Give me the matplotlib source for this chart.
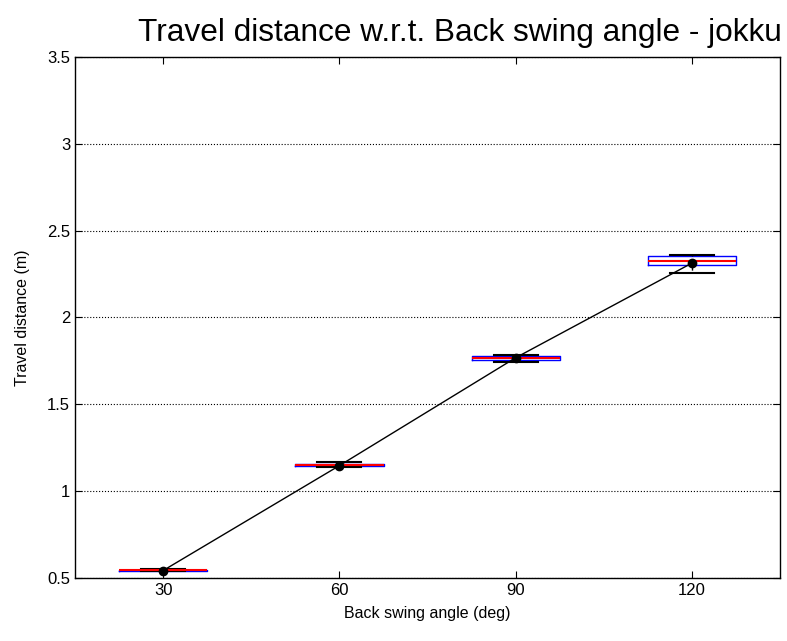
import matplotlib.pyplot as plt

plt.rcParams['font.family'] = ['Liberation Sans', 'DejaVu Sans']

# Box statistics
angles = ['30', '60', '90', '120']
whislo = [0.538, 1.140, 1.745, 2.255]
q1 = [0.543, 1.147, 1.753, 2.302]
med = [0.545, 1.153, 1.765, 2.325]
q3 = [0.547, 1.157, 1.777, 2.352]
whishi = [0.552, 1.165, 1.785, 2.358]
means = [0.543, 1.147, 1.768, 2.313]

stats = []
for i in range(len(angles)):
    stats.append({'label': angles[i], 'whislo': whislo[i], 'q1': q1[i], 'med': med[i],
                  'q3': q3[i], 'whishi': whishi[i], 'fliers': []})

fig = plt.figure(figsize=(7.87, 6.41), dpi=100)
ax = fig.add_axes([0.0953, 0.0983, 0.896, 0.813])

positions = list(range(1, len(angles) + 1))
ax.bxp(stats, positions=positions, widths=0.5, showfliers=False,
       boxprops=dict(color='blue', linewidth=1),
       medianprops=dict(color='red', linewidth=1.5),
       whiskerprops=dict(color='black', linewidth=1, linestyle='--'),
       capprops=dict(color='black', linewidth=1.5),
       capwidths=0.25)

ax.plot(positions, means, color='black', linewidth=1, marker='o', markersize=6, zorder=5)

ax.set_xlim(0.5, 4.5)
ax.set_ylim(0.5, 3.5)
ax.set_xticks(positions)
ax.set_xticklabels(angles)
ax.set_yticks([0.5, 1, 1.5, 2, 2.5, 3, 3.5])
ax.set_yticklabels(['0.5', '1', '1.5', '2', '2.5', '3', '3.5'])
ax.yaxis.grid(True, linestyle=':', color='black', linewidth=0.8)
ax.tick_params(direction='in', labelsize=12, length=5, top=True, right=True)
for s in ax.spines.values():
    s.set_linewidth(1)

ax.set_xlabel('Back swing angle (deg)', fontsize=11.5, labelpad=6)
ax.set_ylabel('Travel distance (m)', fontsize=11.5, labelpad=12)
fig.text(0.585, 0.948, 'Travel distance w.r.t. Back swing angle - jokku', fontsize=22.8,
         ha='center', va='center')

fig.savefig('out.png', dpi=100)
